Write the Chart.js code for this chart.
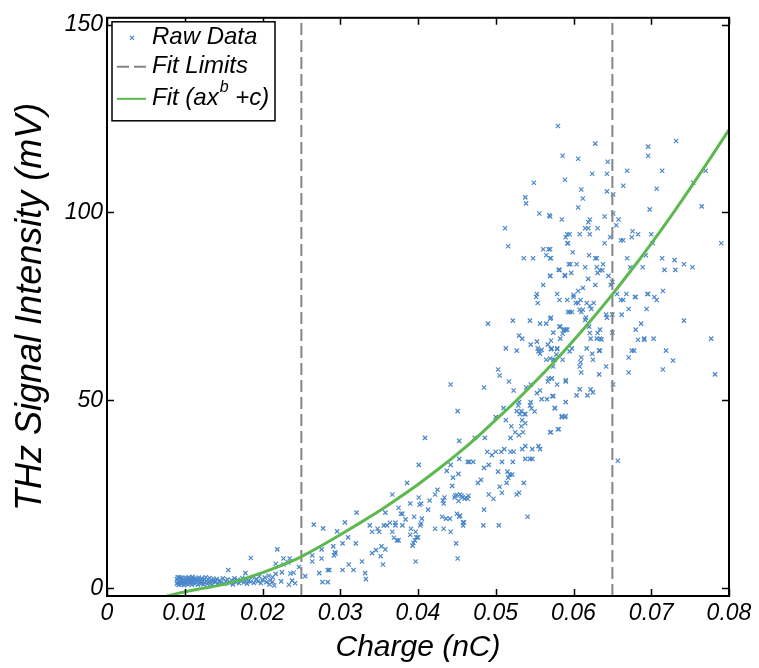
<!DOCTYPE html>
<html>
<head>
<meta charset="utf-8">
<script src="https://cdn.jsdelivr.net/npm/chart.js@4.4.0/dist/chart.umd.min.js"></script>
<style>
  body { margin: 0; background: #fff; }
  #wrap { width: 759px; height: 668px; }
</style>
</head>
<body>
<div id="wrap"><canvas id="thzChart" width="759" height="668"></canvas></div>
<script>
// ---- data: [charge (nC), THz signal (mV)] ----
const rawData = [
  // dense cluster at low charge
  [0.0090,1.2],[0.0090,2.4],[0.0091,1.8],[0.0091,2.9],[0.0092,0.9],[0.0093,2.9],[0.0093,1.0],[0.0094,1.5],
  [0.0095,2.2],[0.0095,2.7],[0.0096,1.1],[0.0097,2.7],[0.0097,1.4],[0.0098,1.6],[0.0099,0.8],[0.0099,2.3],
  [0.0100,2.0],[0.0101,2.8],[0.0101,1.1],[0.0102,1.3],[0.0103,2.4],[0.0103,1.7],[0.0104,1.0],[0.0105,1.9],
  [0.0105,2.9],[0.0106,2.6],[0.0107,1.4],[0.0107,2.1],[0.0108,2.2],[0.0109,0.9],[0.0109,1.5],[0.0110,3.0],
  [0.0111,1.7],[0.0111,2.5],[0.0112,2.3],[0.0113,1.1],[0.0113,2.0],[0.0114,2.6],[0.0115,1.5],[0.0116,2.0],
  [0.0117,0.9],[0.0118,2.8],[0.0119,1.6],[0.0120,2.2],[0.0121,1.2],[0.0122,2.6],[0.0123,1.8],[0.0124,1.0],
  [0.0125,2.4],[0.0126,1.4],[0.0127,2.9],[0.0128,1.9],[0.0129,1.1],[0.0130,2.3],[0.0131,1.6],[0.0132,2.7],
  [0.0133,1.3],[0.0134,2.1],[0.0135,0.9],[0.0136,1.8],[0.0137,2.5],[0.0139,1.6],[0.0141,2.4],[0.0143,1.2],
  [0.0145,2.0],[0.0147,1.5],[0.0149,2.6],[0.0151,1.1],[0.0153,1.9],[0.0155,2.3],[0.0158,1.4],[0.0160,2.1],
  [0.0162,1.0],[0.0164,2.6],[0.0166,1.6],[0.0168,2.2],[0.0170,1.3],[0.0172,1.9],[0.0174,2.7],[0.0176,1.5],
  [0.0178,2.3],[0.0180,1.2],[0.0182,2.0],[0.0185,1.7],[0.0187,2.9],[0.0189,1.4],[0.0192,2.4],[0.0194,1.8],
  [0.0196,3.1],[0.0198,1.3],[0.0200,2.2],[0.0203,2.8],[0.0205,1.6],[0.0208,3.3],[0.0210,2.1],[0.0213,1.7],
  // 0.015 - 0.03
  [0.0156,4.8],[0.0178,4.0],[0.0185,8.0],[0.0219,10.3],[0.0217,6.5],[0.0227,7.9],[0.0235,7.9],[0.0227,6.3],
  [0.0233,6.8],[0.0225,4.2],[0.0217,3.8],[0.0236,3.9],[0.0240,4.1],[0.0238,2.0],[0.0242,1.3],[0.0234,0.9],
  [0.0224,1.8],[0.0213,2.9],[0.0209,1.0],[0.0215,0.7],[0.0247,5.6],[0.0255,3.2],[0.0266,16.9],[0.0278,15.9],
  [0.0264,8.7],[0.0264,7.1],[0.0276,10.3],[0.0276,7.9],[0.0273,4.0],[0.0277,1.6],[0.0284,1.6],[0.0284,4.8],
  // 0.03 - 0.046
  [0.0451,47.1],[0.0409,40.0],[0.0453,39.2],[0.0401,32.8],[0.0453,34.4],[0.0464,33.6],[0.0442,32.8],[0.0437,31.2],
  [0.0452,30.4],[0.0445,29.4],[0.0386,28.0],[0.0444,27.2],[0.0425,26.2],[0.0367,24.9],[0.0401,24.1],[0.0404,22.5],
  [0.0415,23.3],[0.0422,24.9],[0.0432,23.3],[0.0433,22.5],[0.0434,24.1],[0.0447,24.1],[0.0450,24.8],[0.0454,24.9],
  [0.0457,24.1],[0.0462,24.1],[0.0448,24.6],[0.0452,23.2],[0.0375,21.4],[0.0390,22.5],[0.0402,22.2],[0.0413,20.9],
  [0.0378,19.8],[0.0380,19.8],[0.0321,20.1],[0.0358,20.1],[0.0384,18.3],[0.0395,19.0],[0.0405,18.5],[0.0404,17.2],
  [0.0403,16.7],[0.0431,19.0],[0.0436,18.5],[0.0441,18.5],[0.0450,19.8],[0.0453,19.0],[0.0458,17.5],[0.0458,16.7],
  [0.0306,17.5],[0.0338,16.7],[0.0356,16.7],[0.0360,16.7],[0.0364,17.4],[0.0371,17.4],[0.0371,16.7],[0.0380,16.7],
  [0.0341,15.0],[0.0350,15.0],[0.0348,15.8],[0.0367,15.0],[0.0373,12.7],[0.0369,13.4],[0.0375,12.7],[0.0390,14.2],
  [0.0397,15.0],[0.0391,15.8],[0.0422,15.8],[0.0433,15.8],[0.0442,15.0],[0.0398,13.5],[0.0400,13.5],[0.0396,12.7],
  [0.0394,12.0],[0.0393,11.3],[0.0449,11.9],[0.0451,7.9],[0.0397,7.1],[0.0296,15.1],[0.0310,13.5],[0.0303,11.9],
  [0.0320,11.9],[0.0291,11.1],[0.0293,9.5],[0.0292,8.7],[0.0294,9.2],[0.0341,9.3],[0.0346,10.1],[0.0352,8.5],
  [0.0355,6.3],[0.0353,11.1],[0.0358,10.3],[0.0328,7.1],[0.0311,6.3],[0.0317,4.8],[0.0303,4.8],[0.0286,4.8],
  [0.0332,4.0],[0.0333,2.4],[0.0442,54.2],
  // 0.046 - 0.06
  [0.0516,91.0],[0.0561,90.2],[0.0568,90.2],[0.0536,87.8],[0.0548,87.8],[0.0565,88.6],[0.0571,87.8],[0.0592,94.2],
  [0.0592,91.8],[0.0582,84.7],[0.0589,83.3],[0.0570,83.1],[0.0561,80.7],[0.0553,78.3],[0.0552,77.5],[0.0554,75.9],
  [0.0579,78.3],[0.0582,76.7],[0.0592,76.7],[0.0594,86.2],[0.0593,73.5],[0.0490,70.4],[0.0522,71.2],[0.0544,71.2],
  [0.0557,70.4],[0.0565,70.4],[0.0571,72.0],[0.0574,68.0],[0.0582,69.6],[0.0583,66.4],[0.0587,68.5],[0.0592,68.8],
  [0.0530,67.2],[0.0534,66.4],[0.0513,63.8],[0.0527,63.2],[0.0545,64.8],[0.0553,65.6],[0.0554,63.8],[0.0555,63.0],
  [0.0557,62.4],[0.0559,63.4],[0.0567,64.8],[0.0571,63.6],[0.0579,63.6],[0.0578,62.2],[0.0586,60.8],[0.0574,60.8],
  [0.0565,60.8],[0.0503,58.2],[0.0505,56.6],[0.0517,55.0],[0.0485,53.4],[0.0523,52.6],[0.0539,53.4],[0.0545,54.2],
  [0.0553,51.9],[0.0557,52.6],[0.0568,55.8],[0.0572,55.8],[0.0579,54.2],[0.0567,55.0],[0.0590,55.0],[0.0574,51.1],
  [0.0566,50.3],[0.0559,50.3],[0.0545,49.5],[0.0544,48.6],[0.0546,47.8],[0.0550,47.0],[0.0530,49.5],[0.0529,48.6],
  [0.0533,47.1],[0.0531,46.3],[0.0537,46.3],[0.0538,46.3],[0.0527,47.1],[0.0510,47.9],[0.0500,45.5],[0.0513,44.7],
  [0.0534,44.7],[0.0538,43.9],[0.0533,43.1],[0.0520,43.1],[0.0525,41.5],[0.0530,40.7],[0.0535,41.5],[0.0519,40.0],
  [0.0590,49.5],[0.0585,45.8],[0.0590,45.8],[0.0576,47.9],[0.0580,42.3],[0.0571,41.5],[0.0473,40.0],[0.0486,40.0],
  [0.0489,36.3],[0.0495,35.4],[0.0500,36.3],[0.0507,36.3],[0.0511,37.0],[0.0519,36.3],[0.0523,36.3],[0.0534,37.0],
  [0.0538,37.8],[0.0547,37.0],[0.0555,37.8],[0.0557,37.0],[0.0466,33.6],[0.0471,33.6],[0.0508,33.6],[0.0522,33.6],
  [0.0538,34.4],[0.0544,34.4],[0.0547,34.4],[0.0485,32.0],[0.0491,32.8],[0.0503,31.0],[0.0515,31.0],[0.0518,30.2],
  [0.0521,30.2],[0.0516,29.4],[0.0514,28.0],[0.0481,28.8],[0.0477,28.0],[0.0505,27.0],[0.0508,25.4],[0.0536,28.0],
  [0.0527,24.9],[0.0530,25.4],[0.0491,24.9],[0.0497,23.8],[0.0456,24.6],[0.0460,23.8],[0.0465,24.6],[0.0464,23.8],
  [0.0485,20.9],[0.0454,19.3],[0.0459,17.5],[0.0484,16.7],[0.0504,16.7],[0.0541,19.0],
  [0.0549,107.9],[0.0538,104.0],[0.0539,102.4],[0.0512,95.8],[0.0556,99.7],[0.0569,99.2],
  // 0.057 - 0.07
  [0.0580,123.0],[0.0628,118.3],[0.0586,115.1],[0.0606,114.3],[0.0644,113.5],[0.0696,117.5],[0.0696,115.1],[0.0624,110.3],
  [0.0643,110.3],[0.0669,111.1],[0.0589,108.7],[0.0664,107.1],[0.0610,106.1],[0.0612,103.7],[0.0643,105.6],[0.0651,104.8],
  [0.0606,101.3],[0.0698,100.8],[0.0651,99.7],[0.0640,98.9],[0.0658,98.1],[0.0585,98.1],[0.0621,98.1],[0.0619,97.4],
  [0.0655,96.6],[0.0615,95.8],[0.0619,95.8],[0.0631,95.8],[0.0570,98.9],[0.0595,94.2],[0.0608,94.2],[0.0621,94.2],
  [0.0590,93.4],[0.0593,91.8],[0.0647,93.4],[0.0640,91.8],[0.0661,92.6],[0.0664,92.6],[0.0676,95.0],[0.0675,93.4],
  [0.0683,94.2],[0.0599,89.4],[0.0570,90.2],[0.0570,87.8],[0.0620,88.6],[0.0628,87.8],[0.0630,87.8],[0.0596,86.2],
  [0.0604,86.2],[0.0615,85.4],[0.0597,83.9],[0.0589,83.1],[0.0581,84.7],[0.0630,85.4],[0.0634,84.6],[0.0637,84.6],
  [0.0638,86.2],[0.0631,83.9],[0.0669,87.8],[0.0673,85.4],[0.0645,83.1],[0.0650,81.5],[0.0648,80.7],[0.0619,82.3],
  [0.0628,80.7],[0.0612,79.9],[0.0606,79.1],[0.0600,78.0],[0.0570,83.1],[0.0600,77.5],[0.0603,75.9],[0.0606,75.9],
  [0.0609,76.7],[0.0612,74.1],[0.0610,73.5],[0.0608,74.1],[0.0617,75.9],[0.0621,75.1],[0.0626,75.9],[0.0623,74.3],
  [0.0616,72.0],[0.0615,71.4],[0.0595,73.5],[0.0598,73.5],[0.0656,78.3],[0.0661,76.7],[0.0664,76.7],[0.0668,78.3],
  [0.0679,77.5],[0.0680,77.5],[0.0696,78.3],[0.0671,74.3],[0.0694,74.3],[0.0642,72.8],[0.0650,72.8],[0.0643,72.0],
  [0.0662,72.8],[0.0687,70.4],[0.0570,71.7],[0.0583,69.6],[0.0588,68.8],[0.0590,68.8],[0.0586,67.7],[0.0620,69.6],
  [0.0621,67.9],[0.0622,66.4],[0.0631,67.9],[0.0630,66.4],[0.0634,68.8],[0.0634,66.4],[0.0636,66.2],[0.0650,68.0],
  [0.0680,68.8],[0.0683,66.1],[0.0691,66.1],[0.0572,63.8],[0.0579,63.8],[0.0571,65.9],[0.0598,63.8],[0.0595,63.0],
  [0.0617,63.8],[0.0624,62.4],[0.0625,60.8],[0.0633,63.2],[0.0634,63.2],[0.0675,63.2],[0.0678,63.2],[0.0671,61.4],
  [0.0610,61.4],[0.0609,60.1],[0.0608,59.0],[0.0610,57.4],[0.0576,60.8],[0.0574,59.0],[0.0570,61.1],[0.0642,59.0],
  [0.0633,56.9],[0.0671,57.4],[0.0572,55.8],[0.0590,55.3],[0.0651,54.2],[0.0604,51.3],[0.0608,52.9],[0.0618,51.3],
  [0.0622,52.9],[0.0625,52.1],[0.0573,51.1],[0.0576,47.9],[0.0585,45.5],[0.0589,45.5],[0.0581,42.3],[0.0570,41.5],
  [0.0657,33.9],
  // above 0.069
  [0.0732,119.0],[0.0714,111.1],[0.0770,111.1],[0.0754,107.9],[0.0707,106.3],[0.0765,101.6],[0.0700,94.2],[0.0702,91.8],
  [0.0790,91.8],[0.0693,88.6],[0.0689,85.4],[0.0714,87.8],[0.0730,87.3],[0.0717,84.7],[0.0731,84.7],[0.0742,86.2],
  [0.0753,85.4],[0.0695,78.3],[0.0704,77.5],[0.0707,76.7],[0.0715,79.1],[0.0742,71.2],[0.0691,66.4],[0.0703,66.4],
  [0.0777,66.4],[0.0719,63.2],[0.0728,60.6],[0.0715,58.2],[0.0782,56.9]
];

// fitted curve a*x^b + c, sampled off the figure
const fitCharge = [0.0077, 0.010, 0.0125, 0.015, 0.0175, 0.020, 0.0225, 0.025, 0.0275, 0.030,
  0.0325, 0.035, 0.0375, 0.040, 0.0425, 0.045, 0.0475, 0.050, 0.0525, 0.055,
  0.0575, 0.060, 0.0625, 0.065, 0.0675, 0.070, 0.0725, 0.075, 0.0775, 0.080];
const fitSignal = [-2.1, -1.0, 0.0, 1.0, 2.4, 4.1, 6.1, 8.4, 11.2, 14.2,
  17.3, 20.5, 24.0, 27.6, 31.5, 35.6, 40.0, 44.8, 49.6, 54.8,
  60.2, 65.9, 71.9, 78.2, 84.8, 91.7, 98.9, 106.4, 114.1, 122.0];

const fitLimits = [0.025, 0.065];

const xTickValues = [0, 0.01, 0.02, 0.03, 0.04, 0.05, 0.06, 0.07, 0.08];
const xTickLabels = ['0', '0.01', '0.02', '0.03', '0.04', '0.05', '0.06', '0.07', '0.08'];
const yTickValues = [0, 50, 100, 150];
const yTickLabels = ['0', '50', '100', '150'];

const X_MIN = 0, X_MAX = 0.08;
const Y_MIN = -2.1, Y_MAX = 151.8;

const BLUE = '#4a87c9';
const GREEN = '#5cb84f';
const GREY = '#858585';
const FONT = "'Liberation Sans', Arial, Helvetica, sans-serif";

// frame with inward ticks on all four sides (matlab look)
const framePlugin = {
  id: 'frame',
  afterDraw(chart) {
    const { ctx, chartArea: a, scales } = chart;
    ctx.save();
    ctx.strokeStyle = '#000';
    ctx.lineWidth = 1.5;
    const tl = 7;
    ctx.beginPath();
    xTickValues.forEach(v => {
      const px = Math.round(scales.x.getPixelForValue(v)) + 0.5;
      ctx.moveTo(px, a.bottom); ctx.lineTo(px, a.bottom - tl);
      ctx.moveTo(px, a.top); ctx.lineTo(px, a.top + tl);
    });
    yTickValues.forEach(v => {
      const py = Math.round(scales.y.getPixelForValue(v)) + 0.5;
      ctx.moveTo(a.left, py); ctx.lineTo(a.left + tl, py);
      ctx.moveTo(a.right, py); ctx.lineTo(a.right - tl, py);
    });
    ctx.stroke();
    ctx.lineWidth = 2;
    ctx.strokeRect(a.left, a.top, a.right - a.left, a.bottom - a.top);

    // legend box
    const lx = a.left + 5, ly = a.top + 4, lw = 163, lh = 99;
    ctx.fillStyle = '#fff';
    ctx.fillRect(lx, ly, lw, lh);
    ctx.lineWidth = 1.5;
    ctx.strokeRect(lx, ly, lw, lh);

    const rows = [ly + 16, ly + 45, ly + 77];
    // raw data marker
    ctx.strokeStyle = BLUE;
    ctx.lineWidth = 1.2;
    ctx.beginPath();
    ctx.moveTo(lx + 18, rows[0] - 2); ctx.lineTo(lx + 22, rows[0] + 2);
    ctx.moveTo(lx + 22, rows[0] - 2); ctx.lineTo(lx + 18, rows[0] + 2);
    ctx.stroke();
    // fit limits
    ctx.strokeStyle = GREY;
    ctx.lineWidth = 2;
    ctx.setLineDash([12, 5]);
    ctx.beginPath();
    ctx.moveTo(lx + 5, rows[1]); ctx.lineTo(lx + 34, rows[1]);
    ctx.stroke();
    ctx.setLineDash([]);
    // fit
    ctx.strokeStyle = GREEN;
    ctx.beginPath();
    ctx.moveTo(lx + 5, rows[2]); ctx.lineTo(lx + 34, rows[2]);
    ctx.stroke();

    ctx.fillStyle = '#000';
    ctx.textBaseline = 'middle';
    ctx.textAlign = 'left';
    ctx.font = 'italic 24px ' + FONT;
    const tx = lx + 40;
    ctx.fillText('Raw Data', tx, rows[0]);
    ctx.fillText('Fit Limits', tx, rows[1]);
    const part1 = 'Fit (ax';
    ctx.fillText(part1, tx, rows[2]);
    let w = ctx.measureText(part1).width;
    ctx.font = 'italic 16px ' + FONT;
    ctx.fillText('b', tx + w + 1, rows[2] - 11);
    w += ctx.measureText('b').width + 1;
    ctx.font = 'italic 24px ' + FONT;
    ctx.fillText(' +c)', tx + w, rows[2]);
    ctx.restore();
  }
};

const tickFont = { family: FONT, size: 23, style: 'italic' };
const xTitleFont = { family: FONT, size: 30, style: 'italic' };
const yTitleFont = { family: FONT, size: 36, style: 'italic' };

new Chart(document.getElementById('thzChart'), {
  type: 'scatter',
  data: {
    datasets: [
      {
        label: 'Raw Data',
        data: rawData.map(p => ({ x: p[0], y: p[1] })),
        pointStyle: 'crossRot',
        radius: 3,
        borderColor: BLUE,
        backgroundColor: BLUE,
        borderWidth: 1.2,
        order: 3
      },
      ...fitLimits.map(l => ({
        label: 'Fit Limits',
        type: 'line',
        data: [{ x: l, y: Y_MIN }, { x: l, y: Y_MAX }],
        borderColor: GREY,
        borderWidth: 2,
        borderDash: [12, 5],
        pointRadius: 0,
        order: 2
      })),
      {
        label: 'Fit (ax^b +c)',
        type: 'line',
        data: fitCharge.map((x, i) => ({ x: x, y: fitSignal[i] })),
        borderColor: GREEN,
        borderWidth: 3,
        pointRadius: 0,
        cubicInterpolationMode: 'monotone',
        order: 1
      }
    ]
  },
  options: {
    responsive: false,
    animation: false,
    layout: { padding: { top: 14, right: 30, left: 0, bottom: 0 } },
    plugins: { legend: { display: false }, tooltip: { enabled: false } },
    scales: {
      x: {
        type: 'linear',
        min: X_MIN,
        max: X_MAX,
        grid: { display: false, drawTicks: false },
        border: { display: false },
        afterBuildTicks: s => { s.ticks = xTickValues.map(v => ({ value: v })); },
        afterFit: s => { s.height = 72; },
        ticks: {
          color: '#000', font: tickFont, padding: 4, maxRotation: 0, autoSkip: false,
          callback: (v, i) => xTickLabels[i]
        },
        title: { display: true, text: 'Charge (nC)', color: '#000', font: xTitleFont, padding: { top: 0, bottom: 2 } }
      },
      y: {
        type: 'linear',
        min: Y_MIN,
        max: Y_MAX,
        grid: { display: false, drawTicks: false },
        border: { display: false },
        afterBuildTicks: s => { s.ticks = yTickValues.map(v => ({ value: v })); },
        afterFit: s => { s.width = 107; },
        ticks: {
          color: '#000', font: tickFont, padding: 4,
          callback: (v, i) => yTickLabels[i]
        },
        title: { display: true, text: 'THz Signal Intensity (mV)', color: '#000', font: yTitleFont, padding: { top: 9, bottom: 0 } }
      }
    }
  },
  plugins: [framePlugin]
});
</script>
</body>
</html>
